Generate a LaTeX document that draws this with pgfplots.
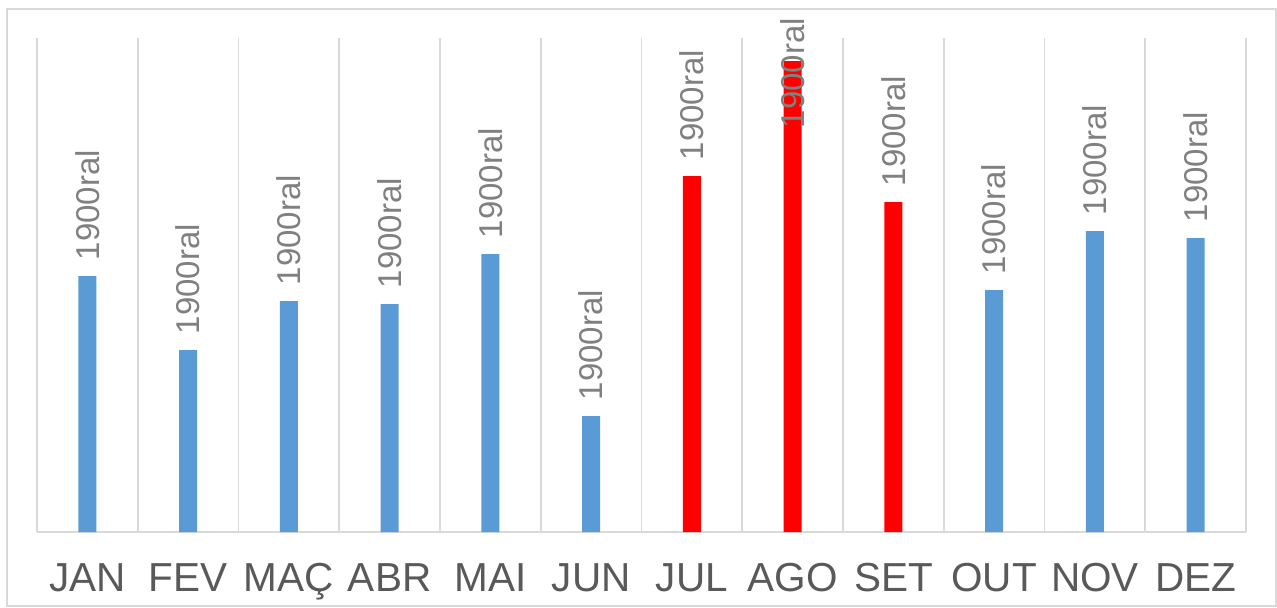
\documentclass[border=0pt]{standalone}
\usepackage{pgfplots}
\pgfplotsset{compat=1.18}
\usepackage{pgfplotstable}
\usepackage{fontspec}
\setmainfont{Liberation Sans}
\definecolor{barblue}{HTML}{5B9BD5}
\definecolor{barred}{HTML}{FF0000}
\definecolor{gridgray}{HTML}{D9D9D9}
\definecolor{ticktext}{HTML}{595959}
\definecolor{labelgray}{HTML}{808080}

\pgfplotstableread{
x y off
0 256 0
1 182 0
2 231 0
3 228 0
4 278 0
5 116 0
9 242 0
10 301 0
11 294 0
}\bluedata
\pgfplotstableread{
x y off
6 356 0
7 471 -41.5
8 330 0
}\reddata

\begin{document}
\begin{tikzpicture}
\path[use as bounding box] (0,0) rectangle (638.5pt,303.5pt);
\draw[gridgray, line width=0.8pt] (3.5pt,0.5pt) rectangle (638pt,299pt);
\begin{axis}[
  at={(18.5pt,37.5pt)}, anchor=south west,
  width=604.5pt, height=247pt, scale only axis,
  xmin=-0.5, xmax=11.5, ymin=0, ymax=494,
  axis x line*=bottom, axis y line=none,
  axis line style={gridgray, line width=0.9pt},
  xtick={0,...,11},
  xticklabels={JAN,FEV,MAÇ,ABR,MAI,JUN,JUL,AGO,SET,OUT,NOV,DEZ},
  minor xtick={-0.5,0.5,...,11.5},
  xminorgrids=true,
  minor grid style={gridgray, line width=0.9pt},
  major tick length=0pt, minor tick length=0pt,
  xticklabel style={font=\fontsize{20.25}{24}\selectfont, text=ticktext, inner sep=0pt, anchor=north, yshift=-15.5pt},
  ybar, bar width=9pt, bar shift=0pt,
  nodes near coords={1900ral},
  visualization depends on={\thisrow{off} \as \off},
  every node near coord/.style={yshift=\off*1pt, rotate=90, anchor=west, inner xsep=7.7pt, inner ysep=0pt, font=\fontsize{16.5}{20}\selectfont, text=labelgray},
  clip=false,
]
\addplot[fill=barblue, draw=none] table[x=x,y=y] {\bluedata};
\addplot[fill=barred, draw=none] table[x=x,y=y] {\reddata};
\end{axis}
\end{tikzpicture}
\end{document}
